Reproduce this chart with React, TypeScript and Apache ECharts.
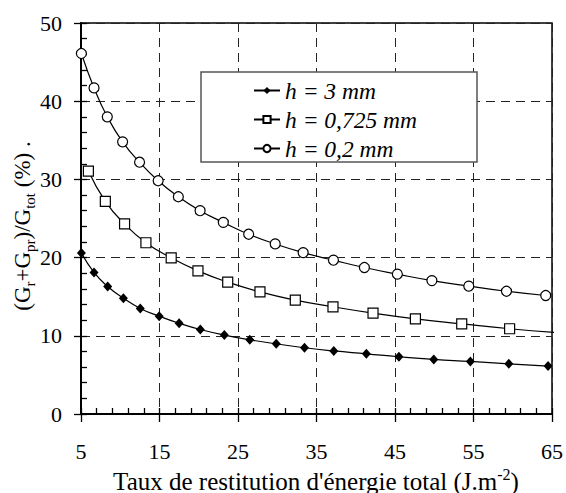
import React, { useEffect, useRef } from "react";
import * as echarts from "echarts";

const seriesNames = ["h = 3 mm", "h = 0,725 mm", "h = 0,2 mm"];

const x3mm = [5.05, 6.66, 8.4, 10.4, 12.55, 14.96, 17.5, 20.2, 23.26, 26.5, 29.87, 33.47, 37.2, 41.35, 45.5, 49.94, 54.6, 59.5, 64.5];
const y3mm = [20.6, 18.1, 16.3, 14.8, 13.5, 12.5, 11.6, 10.8, 10.09, 9.49, 8.98, 8.47, 8.06, 7.7, 7.32, 6.98, 6.72, 6.42, 6.13];

const x0725 = [5.94, 8.1, 10.55, 13.27, 16.49, 19.9, 23.69, 27.8, 32.3, 37.1, 42.2, 47.6, 53.5, 59.6];
const y0725 = [31.06, 27.2, 24.3, 21.9, 19.96, 18.3, 16.86, 15.62, 14.56, 13.7, 12.9, 12.17, 11.53, 10.9];
const tail0725 = [65.4, 10.42];

const x02 = [5.05, 6.66, 8.35, 10.3, 12.46, 14.83, 17.4, 20.17, 23.13, 26.36, 29.74, 33.3, 37.16, 41.1, 45.3, 49.7, 54.4, 59.2, 64.2];
const y02 = [46.1, 41.7, 38.0, 34.8, 32.2, 29.83, 27.78, 26.0, 24.5, 22.99, 21.75, 20.64, 19.67, 18.73, 17.88, 17.06, 16.35, 15.7, 15.15];

// [min, max, major interval, minor interval]
const xAxisRange = [5, 65, 10, 2];
const yAxisRange = [0, 50, 10, 2];

const FONT = "Liberation Serif";

export default function App() {
  const ref = useRef<HTMLDivElement>(null);
  useEffect(() => {
    if (!ref.current) return;
    const chart = echarts.init(ref.current, undefined, { renderer: "svg" });
    const pairs = (xs: number[], ys: number[]) => xs.map((x, i) => [x, ys[i]]);
    const d0725: any[] = pairs(x0725, y0725);
    d0725.push({ value: tail0725, symbol: "none" });

    const tickStyle = { color: "#000", width: 1.3 };
    const lineStyle = { color: "#000", width: 1.2 };
    const labelStyle = { show: true, fontFamily: FONT, fontSize: 22, color: "#000" };

    chart.setOption({
      animation: false,
      backgroundColor: "#fff",
      textStyle: { fontFamily: FONT, color: "#000" },
      grid: {
        left: 81,
        right: 13,
        top: 23,
        bottom: 79,
        show: true,
        borderColor: "#000",
        borderWidth: 1.5,
        backgroundColor: "transparent",
      },
      xAxis: [
        {
          type: "value",
          position: "bottom",
          min: xAxisRange[0],
          max: xAxisRange[1],
          interval: xAxisRange[2],
          axisLine: { show: true, onZero: false, lineStyle: { color: "#000", width: 2 } },
          axisTick: { show: true, inside: false, length: 8, lineStyle: tickStyle },
          splitLine: { show: true, lineStyle: { color: "#222", width: 1, type: [9, 6] } },
          axisLabel: { ...labelStyle, margin: 26 },
        },
        {
          type: "value",
          position: "bottom",
          min: xAxisRange[0],
          max: xAxisRange[1],
          interval: xAxisRange[3],
          axisLine: { show: false, onZero: false },
          axisTick: { show: true, inside: true, length: 6, lineStyle: tickStyle },
          splitLine: { show: false },
          axisLabel: { show: false },
        },
      ],
      yAxis: [
        {
          type: "value",
          position: "left",
          min: yAxisRange[0],
          max: yAxisRange[1],
          interval: yAxisRange[2],
          axisLine: { show: true, onZero: false, lineStyle: { color: "#000", width: 2 } },
          axisTick: { show: true, inside: false, length: 7, lineStyle: tickStyle },
          splitLine: { show: true, lineStyle: { color: "#222", width: 1, type: [9, 6] } },
          axisLabel: { ...labelStyle, margin: 19 },
        },
        {
          type: "value",
          position: "left",
          min: yAxisRange[0],
          max: yAxisRange[1],
          interval: yAxisRange[3],
          axisLine: { show: false, onZero: false },
          axisTick: { show: true, inside: true, length: 6, lineStyle: tickStyle },
          splitLine: { show: false },
          axisLabel: { show: false },
        },
      ],
      legend: {
        orient: "vertical",
        left: 253,
        top: 79,
        padding: 0,
        itemWidth: 26,
        itemHeight: 9,
        itemGap: 6,
        z: 10,
        textStyle: { fontSize: 23.5, fontStyle: "italic", fontFamily: FONT, color: "#000", lineHeight: 22 },
        data: seriesNames,
      },
      graphic: [
        {
          type: "rect",
          z: 5,
          shape: { x: 201, y: 72, width: 276, height: 90 },
          style: { fill: "#fff", stroke: "#555", lineWidth: 1.5 },
        },
        {
          type: "text",
          x: 22,
          y: 226,
          rotation: Math.PI / 2,
          style: {
            text: "(G{s|r}+G{s|pr})/G{s|tot} (%) .",
            fontSize: 23,
            fontFamily: FONT,
            lineHeight: 30,
            fill: "#000",
            align: "center",
            verticalAlign: "middle",
            rich: {
              s: { fontSize: 15, lineHeight: 15, verticalAlign: "bottom", fontFamily: FONT, fill: "#000" },
            },
          },
        },
        {
          type: "text",
          x: 316,
          y: 481,
          style: {
            text: "Taux de restitution d'énergie total (J.m{p|-2})",
            fontSize: 25,
            fontFamily: FONT,
            lineHeight: 30,
            fill: "#000",
            align: "center",
            verticalAlign: "middle",
            rich: {
              p: { fontSize: 16, lineHeight: 16, verticalAlign: "top", fontFamily: FONT, fill: "#000" },
            },
          },
        },
      ],
      series: [
        {
          name: seriesNames[0],
          type: "line",
          smooth: true,
          symbol: "diamond",
          symbolSize: [9, 10],
          itemStyle: { color: "#000", borderColor: "#000", borderWidth: 0 },
          lineStyle,
          z: 3,
          data: pairs(x3mm, y3mm),
        },
        {
          name: seriesNames[1],
          type: "line",
          smooth: true,
          clip: false,
          symbol: "rect",
          symbolSize: 10,
          itemStyle: { color: "#fff", borderColor: "#000", borderWidth: 1.2 },
          lineStyle,
          z: 3,
          data: d0725,
        },
        {
          name: seriesNames[2],
          type: "line",
          smooth: true,
          symbol: "circle",
          symbolSize: 10,
          itemStyle: { color: "#fff", borderColor: "#000", borderWidth: 1.2 },
          lineStyle,
          z: 3,
          data: pairs(x02, y02),
        },
        {
          name: "axis-anchor",
          type: "line",
          xAxisIndex: 1,
          yAxisIndex: 1,
          silent: true,
          symbol: "none",
          lineStyle: { opacity: 0 },
          data: pairs(x02, y02),
        },
      ],
    });
    return () => chart.dispose();
  }, []);
  return <div ref={ref} style={{ width: 566, height: 493, position: "absolute", left: 0, top: 0 }} />;
}
